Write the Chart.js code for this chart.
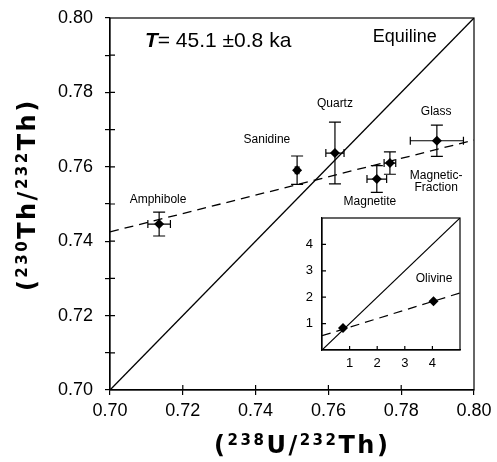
<!DOCTYPE html>
<html>
<head>
<meta charset="utf-8">
<script src="https://cdn.jsdelivr.net/npm/chart.js@4"></script>
<style>
  body { margin: 0; background: #fff; }
  #wrap { position: relative; width: 497px; height: 462px; }
  #main { position: absolute; left: 0; top: 0; }
  #inset { position: absolute; left: 300px; top: 210px; }
</style>
</head>
<body>
<div id="wrap">
  <canvas id="main" width="497" height="462"></canvas>
  <canvas id="inset" width="170" height="164"></canvas>
</div>
<script>
// mineral separates, (238U/232Th) vs (230Th/232Th)
const minerals = ['Amphibole', 'Sanidine', 'Quartz', 'Magnetite', 'Magnetic-Fraction', 'Glass'];
const uTh = [0.7135, 0.7514, 0.7618, 0.7733, 0.7769, 0.7898];
const thTh = [0.7446, 0.7591, 0.7637, 0.7567, 0.7610, 0.7670];
const uThErr = [0.0031, 0.0005, 0.0025, 0.0027, 0.0016, 0.0073];
const thThErr = [0.0032, 0.0038, 0.0083, 0.0036, 0.0030, 0.0042];

// isochron end points (dashed) and equiline
const isoX = [0.70, 0.80];
const isoY = [0.7425, 0.7672];
const equiX = [0.70, 0.80];
const equiY = [0.70, 0.80];

// axis ticks
const xTicks = [0.70, 0.72, 0.74, 0.76, 0.78, 0.80];
const yTicks = [0.70, 0.71, 0.72, 0.73, 0.74, 0.75, 0.76, 0.77, 0.78, 0.79, 0.80];

// axis titles as [text, superscript?] runs
const xTitle = [['(', 0], ['238', 1], ['U/', 0], ['232', 1], ['Th)', 0]];
const yTitle = [['(', 0], ['230', 1], ['Th/', 0], ['232', 1], ['Th)', 0]];

// text labels (data coords, centred)
const labelText = ['Quartz', 'Sanidine', 'Glass', 'Amphibole', 'Magnetite', 'Magnetic-', 'Fraction', 'Equiline'];
const labelX = [0.7618, 0.7431, 0.7896, 0.7132, 0.7714, 0.7896, 0.7896, 0.7810];
const labelY = [0.7769, 0.7672, 0.7747, 0.7511, 0.7505, 0.7575, 0.7543, 0.7950];

// inset (olivine)
const insetX = [0.76, 4.04];
const insetY = [0.83, 1.85];
const insetIsoX = [0, 5];
const insetIsoY = [0.54, 2.16];
const insetEquiX = [0, 5];
const insetEquiY = [0, 5];
const insetTicks = [0, 1, 2, 3, 4, 5];

const toPts = (xs, ys) => xs.map((x, i) => ({x: x, y: ys[i]}));
const FONT = "'Liberation Sans', Arial, sans-serif";
const TITLE_FONT = "'DejaVu Sans', sans-serif";

// keep label overflow from moving the plot area
const noPad = s => { s.paddingTop = 0; s.paddingBottom = 0; s.paddingLeft = 0; s.paddingRight = 0; };

// frame + inward tick marks
const frameTicks = {
  id: 'frameTicks',
  afterDatasetsDraw(chart, args, opts) {
    const {ctx, chartArea: a, scales: {x, y}} = chart;
    ctx.save();
    ctx.strokeStyle = '#000';
    ctx.lineWidth = opts.width || 1.2;
    ctx.strokeRect(a.left, a.top, a.right - a.left, a.bottom - a.top);
    ctx.beginPath();
    x.ticks.forEach(t => {
      const px = x.getPixelForValue(t.value);
      if (px > a.left + 1 && px < a.right - 1) {
        ctx.moveTo(px, a.bottom);
        ctx.lineTo(px, a.bottom - opts.len);
      }
    });
    y.ticks.forEach(t => {
      const py = y.getPixelForValue(t.value);
      if (py > a.top + 1 && py < a.bottom - 1) {
        ctx.moveTo(a.left, py);
        ctx.lineTo(a.left + opts.len, py);
      }
    });
    ctx.stroke();
    ctx.restore();
  }
};

// error bars for the mineral points
const errorBars = {
  id: 'errorBars',
  afterDatasetsDraw(chart) {
    const {ctx, scales: {x, y}} = chart;
    ctx.save();
    ctx.strokeStyle = '#000';
    ctx.lineWidth = 1.2;
    ctx.beginPath();
    uTh.forEach((ux, i) => {
      const px = x.getPixelForValue(ux);
      const py = y.getPixelForValue(thTh[i]);
      const x0 = x.getPixelForValue(ux - uThErr[i]);
      const x1 = x.getPixelForValue(ux + uThErr[i]);
      const y0 = y.getPixelForValue(thTh[i] - thThErr[i]);
      const y1 = y.getPixelForValue(thTh[i] + thThErr[i]);
      // vertical
      ctx.moveTo(px, y0); ctx.lineTo(px, y1);
      ctx.moveTo(px - 6, y0); ctx.lineTo(px + 6, y0);
      ctx.moveTo(px - 6, y1); ctx.lineTo(px + 6, y1);
      // horizontal
      ctx.moveTo(x0, py); ctx.lineTo(x1, py);
      ctx.moveTo(x0, py - 4); ctx.lineTo(x0, py + 4);
      ctx.moveTo(x1, py - 4); ctx.lineTo(x1, py + 4);
    });
    ctx.stroke();
    ctx.restore();
  }
};

// draw a title with superscripts, centred on 0,0 (baseline)
function drawRich(ctx, runs, spacing) {
  const base = 'bold 24px ' + TITLE_FONT;
  const sup = 'bold 15px ' + TITLE_FONT;
  let w = 0;
  runs.forEach(r => {
    ctx.font = r[1] ? sup : base;
    for (const ch of r[0]) w += ctx.measureText(ch).width + spacing;
  });
  w -= spacing;
  let px = -w / 2;
  runs.forEach(r => {
    ctx.font = r[1] ? sup : base;
    for (const ch of r[0]) {
      ctx.fillText(ch, px, r[1] ? -8 : 0);
      px += ctx.measureText(ch).width + spacing;
    }
  });
}

// mineral names, equiline label, age and axis titles
const textLabels = {
  id: 'textLabels',
  afterDatasetsDraw(chart) {
    const {ctx, chartArea: a, scales: {x, y}} = chart;
    ctx.save();
    ctx.fillStyle = '#000';
    ctx.textAlign = 'center';
    ctx.textBaseline = 'middle';
    labelText.forEach((t, i) => {
      ctx.font = (t === 'Equiline' ? '18px ' : '12px ') + FONT;
      ctx.fillText(t, x.getPixelForValue(labelX[i]), y.getPixelForValue(labelY[i]));
    });
    // T = 45.1 ±0.8 ka
    let px = x.getPixelForValue(0.7096);
    const py = y.getPixelForValue(0.7938);
    ctx.textAlign = 'left';
    ctx.font = 'italic bold 21px ' + FONT;
    ctx.fillText('T', px, py);
    px += ctx.measureText('T').width;
    ctx.font = '21px ' + FONT;
    ctx.fillText('= 45.1 \u00b10.8 ka', px, py);

    // axis titles
    ctx.textBaseline = 'alphabetic';
    ctx.save();
    ctx.translate((a.left + a.right) / 2 + 9, 453);
    drawRich(ctx, xTitle, 2.5);
    ctx.restore();
    ctx.save();
    ctx.translate(35, (a.top + a.bottom) / 2 - 8);
    ctx.rotate(-Math.PI / 2);
    drawRich(ctx, yTitle, 2.5);
    ctx.restore();
    ctx.restore();
  }
};

const mainChart = new Chart(document.getElementById('main'), {
  type: 'scatter',
  data: {
    datasets: [
      {
        label: 'minerals',
        data: toPts(uTh, thTh),
        pointStyle: 'rectRot',
        pointRadius: 5,
        backgroundColor: '#000',
        borderColor: '#000',
        borderWidth: 0
      },
      {
        label: 'equiline',
        data: toPts(equiX, equiY),
        showLine: true,
        borderColor: '#000',
        borderWidth: 1.3,
        pointRadius: 0
      },
      {
        label: 'isochron',
        data: toPts(isoX, isoY),
        showLine: true,
        borderColor: '#000',
        borderWidth: 1.3,
        borderDash: [9, 6],
        pointRadius: 0
      }
    ]
  },
  options: {
    responsive: false,
    animation: false,
    layout: { padding: { left: 0, top: 18, right: 23, bottom: 0 } },
    plugins: {
      legend: { display: false },
      tooltip: { enabled: false },
      frameTicks: { len: 5, width: 1.2 }
    },
    scales: {
      x: {
        type: 'linear',
        min: 0.70,
        max: 0.80,
        afterBuildTicks: s => { s.ticks = xTicks.map(v => ({value: v})); },
        afterFit: s => { s.height = 72; noPad(s); },
        grid: { drawOnChartArea: false, tickLength: 5, color: '#000', lineWidth: 1.2 },
        border: { color: '#000', width: 1.2 },
        ticks: {
          color: '#000',
          font: { family: FONT, size: 18 },
          padding: 5,
          maxRotation: 0,
          callback: v => v.toFixed(2)
        }
      },
      y: {
        type: 'linear',
        min: 0.70,
        max: 0.80,
        afterBuildTicks: s => { s.ticks = yTicks.map(v => ({value: v})); },
        afterFit: s => { s.width = 110; noPad(s); },
        grid: { drawOnChartArea: false, tickLength: 5, color: '#000', lineWidth: 1.2 },
        border: { color: '#000', width: 1.2 },
        ticks: {
          color: '#000',
          font: { family: FONT, size: 18 },
          padding: 12,
          callback: v => (Math.round(v * 100) % 2 === 0 ? v.toFixed(2) : '')
        }
      }
    }
  },
  plugins: [frameTicks, errorBars, textLabels]
});

// inset label
const insetLabel = {
  id: 'insetLabel',
  afterDatasetsDraw(chart) {
    const {ctx, scales: {x, y}} = chart;
    ctx.save();
    ctx.fillStyle = '#000';
    ctx.textAlign = 'center';
    ctx.textBaseline = 'middle';
    ctx.font = '12px ' + FONT;
    ctx.fillText('Olivine', x.getPixelForValue(4.06), y.getPixelForValue(2.69));
    ctx.restore();
  }
};

const insetChart = new Chart(document.getElementById('inset'), {
  type: 'scatter',
  data: {
    datasets: [
      {
        data: toPts(insetX, insetY),
        pointStyle: 'rectRot',
        pointRadius: 5,
        backgroundColor: '#000',
        borderWidth: 0
      },
      {
        data: toPts(insetEquiX, insetEquiY),
        showLine: true,
        borderColor: '#000',
        borderWidth: 1.2,
        pointRadius: 0
      },
      {
        data: toPts(insetIsoX, insetIsoY),
        showLine: true,
        borderColor: '#000',
        borderWidth: 1.2,
        borderDash: [9, 6],
        pointRadius: 0
      }
    ]
  },
  options: {
    responsive: false,
    animation: false,
    layout: { padding: { left: 0, top: 8, right: 10, bottom: 0 } },
    plugins: {
      legend: { display: false },
      tooltip: { enabled: false },
      frameTicks: { len: 4, width: 1.2 }
    },
    scales: {
      x: {
        type: 'linear',
        min: 0,
        max: 5,
        afterBuildTicks: s => { s.ticks = insetTicks.map(v => ({value: v})); },
        afterFit: s => { s.height = 24; noPad(s); },
        grid: { display: false, drawTicks: false },
        border: { color: '#000', width: 1.2 },
        ticks: {
          color: '#000',
          font: { family: FONT, size: 13 },
          padding: 6,
          callback: v => (v > 0 && v < 5 ? String(v) : '')
        }
      },
      y: {
        type: 'linear',
        min: 0,
        max: 5,
        afterBuildTicks: s => { s.ticks = insetTicks.map(v => ({value: v})); },
        afterFit: s => { s.width = 22; noPad(s); },
        grid: { display: false, drawTicks: false },
        border: { color: '#000', width: 1.2 },
        ticks: {
          color: '#000',
          font: { family: FONT, size: 13 },
          padding: 9,
          callback: v => (v > 0 && v < 5 ? String(v) : '')
        }
      }
    }
  },
  plugins: [frameTicks, insetLabel]
});
</script>
</body>
</html>
